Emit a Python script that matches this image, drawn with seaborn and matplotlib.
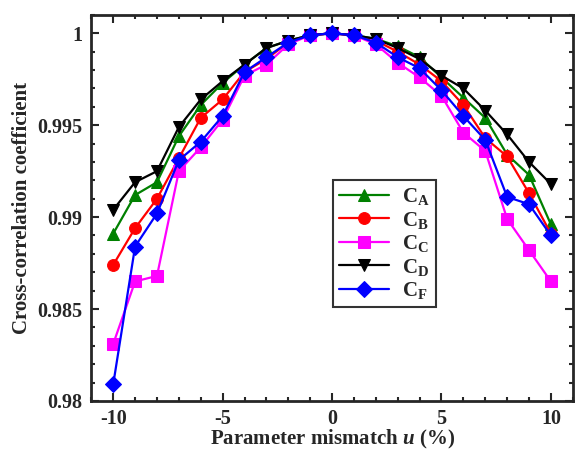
import matplotlib
matplotlib.use('Agg')
import matplotlib.pyplot as plt
import matplotlib.ticker as mticker
import numpy as np
import pandas as pd
import seaborn as sns

# parameter mismatch u (%)
u = [-10, -9, -8, -7, -6, -5, -4, -3, -2, -1, 0, 1, 2, 3, 4, 5, 6, 7, 8, 9, 10]

c_a = [0.9891, 0.9912, 0.9919, 0.9944, 0.9961, 0.9973, 0.9983, 0.9992, 0.9996, 0.9999, 1.0,
       0.9999, 0.9997, 0.9993, 0.9987, 0.9976, 0.9965, 0.9954, 0.9934, 0.9923, 0.9896]
c_b = [0.9874, 0.9894, 0.9910, 0.9932, 0.9954, 0.9964, 0.9979, 0.9986, 0.9995, 0.9999, 1.0,
       0.9999, 0.9996, 0.9990, 0.9983, 0.9974, 0.9961, 0.9943, 0.9933, 0.9913, 0.9891]
c_c = [0.9831, 0.9865, 0.9868, 0.9925, 0.9938, 0.9953, 0.9977, 0.9983, 0.9994, 0.9999, 1.0,
       0.9999, 0.9994, 0.9984, 0.9976, 0.9966, 0.9946, 0.9936, 0.9899, 0.9882, 0.9865]
c_d = [0.9904, 0.9919, 0.9925, 0.9949, 0.9964, 0.9974, 0.9983, 0.9992, 0.9996, 0.9999, 1.0,
       0.9999, 0.9997, 0.9992, 0.9986, 0.9977, 0.9970, 0.9958, 0.9945, 0.9930, 0.9918]
c_f = [0.9809, 0.9884, 0.9902, 0.9931, 0.9941, 0.9955, 0.9979, 0.9987, 0.9995, 0.9999, 1.0,
       0.9999, 0.9995, 0.9987, 0.9981, 0.9969, 0.9955, 0.9942, 0.9911, 0.9907, 0.9890]

labels = [r'$\mathbf{C}_\mathbf{A}$', r'$\mathbf{C}_\mathbf{B}$', r'$\mathbf{C}_\mathbf{C}$',
          r'$\mathbf{C}_\mathbf{D}$', r'$\mathbf{C}_\mathbf{F}$']
colors = ['#008000', '#ff0000', '#ff00ff', '#000000', '#0000ff']
markers = ['^', 'o', 's', 'v', 'D']
sizes = [9, 8.5, 8, 9, 8]

sns.set_style('ticks')
plt.rcParams['font.family'] = ['Liberation Serif', 'DejaVu Serif']
plt.rcParams['font.weight'] = 'bold'
plt.rcParams['axes.labelweight'] = 'bold'
plt.rcParams['axes.unicode_minus'] = False
plt.rcParams['mathtext.fontset'] = 'custom'
plt.rcParams['mathtext.rm'] = 'Liberation Serif:bold'
plt.rcParams['mathtext.bf'] = 'Liberation Serif:bold'
plt.rcParams['mathtext.it'] = 'Liberation Serif:bold:italic'

fig, ax = plt.subplots(figsize=(5.78, 4.53), dpi=100)

series = [c_a, c_b, c_c, c_d, c_f]
for vals, lab, col, mk, ms in zip(series, labels, colors, markers, sizes):
    df = pd.DataFrame({'u': u, 'c': vals})
    sns.lineplot(data=df, x='u', y='c', ax=ax, color=col, marker=mk, markersize=ms,
                 markeredgecolor=col, linewidth=1.6, label=lab)

ax.set_xlim(-11, 11)
ax.set_ylim(0.98, 1.001)
ax.xaxis.set_major_locator(mticker.MultipleLocator(5))
ax.xaxis.set_minor_locator(mticker.MultipleLocator(1))
ax.yaxis.set_major_locator(mticker.MultipleLocator(0.005))
ax.yaxis.set_minor_locator(mticker.MultipleLocator(0.001))
ax.yaxis.set_major_formatter(mticker.FuncFormatter(lambda v, p: '%g' % round(v, 4)))

ax.tick_params(which='both', direction='in', top=True, right=True, width=1.5, labelsize=14.5)
ax.tick_params(which='major', length=6)
ax.tick_params(which='minor', length=3)
ax.tick_params(axis='y', pad=6.5)
ax.tick_params(axis='x', pad=6)
for s in ax.spines.values():
    s.set_linewidth(2)

ax.set_xlabel(r'Parameter mismatch $\mathit{u}$ (%)', fontsize=15, labelpad=-1)
ax.set_ylabel('Cross-correlation coefficient', fontsize=15, labelpad=4)

leg = ax.legend(loc='upper left', bbox_to_anchor=(0.502, 0.5725), borderaxespad=0,
                fontsize=15, frameon=True, fancybox=False, edgecolor='black',
                handlelength=2.4, borderpad=0.3, labelspacing=0.12, handletextpad=0.6)
leg.get_frame().set_linewidth(1.5)

fig.subplots_adjust(left=0.158, right=0.991, top=0.967, bottom=0.115)
fig.savefig('out.png', dpi=100)
